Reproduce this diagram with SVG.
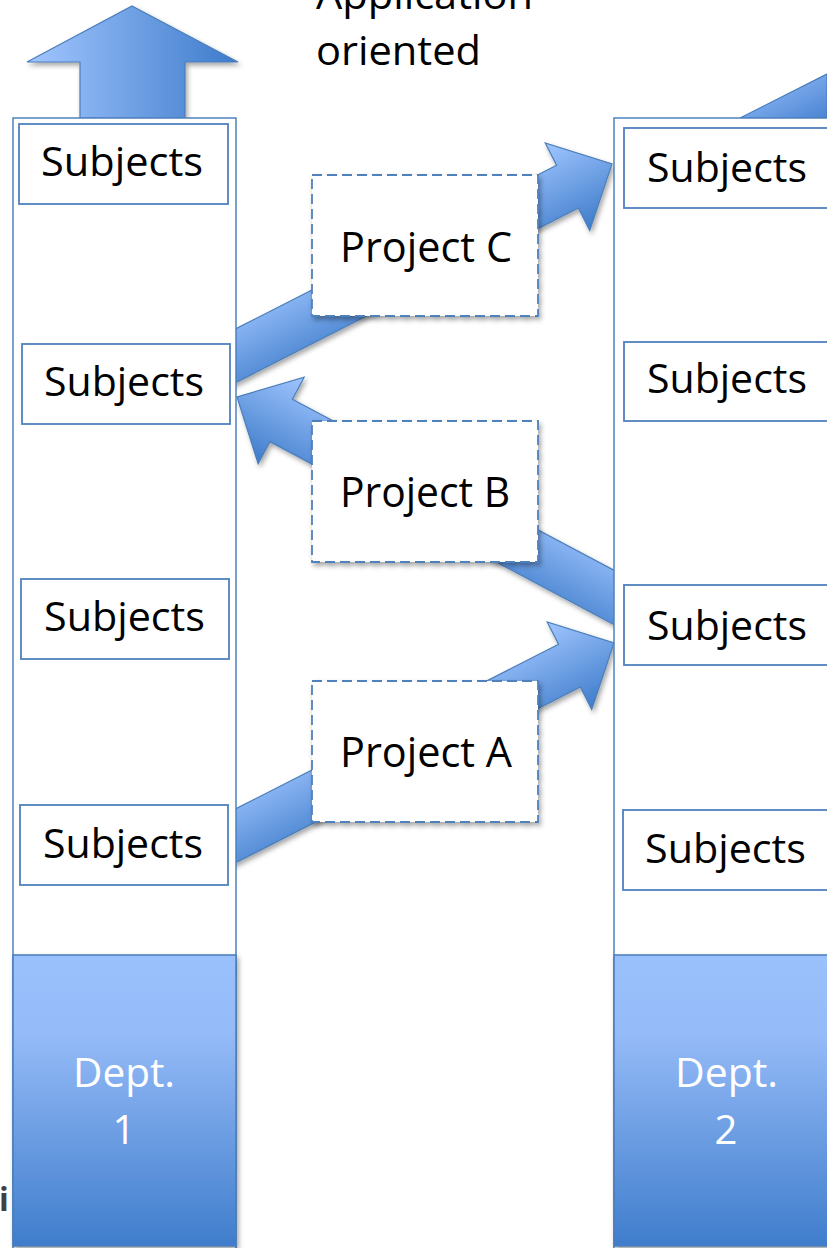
<svg xmlns="http://www.w3.org/2000/svg" width="827" height="1248" viewBox="0 0 827 1248">
  <defs>
    <style>
      .col { fill: #ffffff; stroke: #4f81bd; stroke-width: 1.5; }
      .subj { fill: #ffffff; stroke: #4f81bd; stroke-width: 1.8; }
      .proj { fill: #ffffff; stroke: #4f81bd; stroke-width: 1.8; stroke-dasharray: 10 5; }
      .dept { fill: url(#deptGrad); stroke: #4a7ebb; stroke-width: 1.5; }
      .arrow { fill: url(#arrowGrad); stroke: #4a7ebb; stroke-width: 1.2; }
      .t { font-family: "Open Sans", "Noto Sans", "Liberation Sans", sans-serif; font-size: 40px; fill: #000000; }
      .tp { font-family: "Open Sans", "Noto Sans", "Liberation Sans", sans-serif; font-size: 42px; fill: #000000; }
      .tw { font-family: "Open Sans", "Noto Sans", "Liberation Sans", sans-serif; font-size: 40px; fill: #ffffff; }
    </style>
    <linearGradient id="arrowGrad" x1="0" y1="0" x2="0" y2="1">
      <stop offset="0" stop-color="#a0c5ff"/>
      <stop offset="1" stop-color="#3e7cca"/>
    </linearGradient>
    <linearGradient id="upGrad" x1="0" y1="0" x2="1" y2="0">
      <stop offset="0" stop-color="#a2c6ff"/>
      <stop offset="1" stop-color="#3d7bca"/>
    </linearGradient>
    <linearGradient id="diagGrad" x1="0" y1="0" x2="1" y2="1">
      <stop offset="0" stop-color="#a0c5ff"/>
      <stop offset="1" stop-color="#4a84d2"/>
    </linearGradient>
    <linearGradient id="deptGrad" x1="0" y1="0" x2="0" y2="1">
      <stop offset="0" stop-color="#9bc1fd"/>
      <stop offset="0.28" stop-color="#94baf7"/>
      <stop offset="1" stop-color="#3f7dcc"/>
    </linearGradient>
    <filter id="shadow" x="-10%" y="-10%" width="130%" height="130%">
      <feDropShadow dx="2" dy="3" stdDeviation="2.5" flood-color="#000000" flood-opacity="0.35"/>
    </filter>
    <clipPath id="between">
      <rect x="236" y="0" width="378" height="1248"/>
    </clipPath>
    <polygon id="blockArrow" points="-520,-24 -50,-24 -50,-49 0,0 -50,49 -50,24 -520,24"/>
  </defs>

  <rect width="827" height="1248" fill="#ffffff"/>

  <!-- stray text partly hidden behind the first department -->
  <text x="-1" y="1211" font-family="Open Sans, Noto Sans, sans-serif" font-weight="bold" font-size="32" fill="#404040">i</text>

  <!-- heading -->
  <g id="heading">
    <text x="247" y="9" font-family="Open Sans, Noto Sans, sans-serif" font-size="40" fill="#8a8a8a">•</text>
    <text class="t" x="316" y="9" textLength="217" lengthAdjust="spacingAndGlyphs">Application</text>
    <text class="t" x="316" y="65" textLength="165" lengthAdjust="spacingAndGlyphs">oriented</text>
  </g>

  <!-- project flows between the departments -->
  <g id="connectors">
    <g clip-path="url(#between)">
      <g filter="url(#shadow)">
        <use href="#blockArrow" class="arrow" transform="translate(612,164) rotate(-27)"/>
      </g>
      <g filter="url(#shadow)">
        <use href="#blockArrow" class="arrow" transform="translate(237,397) rotate(208) scale(1,-1)"/>
      </g>
      <g filter="url(#shadow)">
        <use href="#blockArrow" class="arrow" transform="translate(614,643) rotate(-27)"/>
      </g>
    </g>
    <!-- upward arrow leaving department 1 -->
    <g filter="url(#shadow)">
      <polygon points="132,6 238,62 185,62 185,118 80,118 80,62 27,62" fill="url(#upGrad)" stroke="#4a7ebb" stroke-width="1.2"/>
    </g>
    <!-- arrow leaving department 2 -->
    <polygon points="740,118 827,74 827,118" fill="url(#diagGrad)" stroke="#4a7ebb" stroke-width="1.2"/>
  </g>

  <!-- department 1 -->
  <g id="dept1">
    <rect class="col" x="13" y="118" width="223" height="1140"/>
    <rect class="subj" x="19" y="124" width="209" height="80"/>
    <text class="t" x="41" y="176" textLength="162" lengthAdjust="spacingAndGlyphs">Subjects</text>
    <rect class="subj" x="22" y="344" width="208" height="80"/>
    <text class="t" x="44" y="396" textLength="160" lengthAdjust="spacingAndGlyphs">Subjects</text>
    <rect class="subj" x="21" y="579" width="208" height="80"/>
    <text class="t" x="44" y="631" textLength="161" lengthAdjust="spacingAndGlyphs">Subjects</text>
    <rect class="subj" x="20" y="805" width="208" height="80"/>
    <text class="t" x="43" y="858" textLength="160" lengthAdjust="spacingAndGlyphs">Subjects</text>
    <g filter="url(#shadow)">
      <rect class="dept" x="13" y="955" width="223" height="291"/>
    </g>
    <text class="tw" x="73" y="1087" textLength="102" lengthAdjust="spacingAndGlyphs">Dept.</text>
    <text class="tw" x="124" y="1144" text-anchor="middle">1</text>
  </g>

  <!-- department 2 -->
  <g id="dept2">
    <rect class="col" x="614" y="118" width="223" height="1140"/>
    <rect class="subj" x="624" y="128" width="208" height="80"/>
    <text class="t" x="647" y="182" textLength="160" lengthAdjust="spacingAndGlyphs">Subjects</text>
    <rect class="subj" x="624" y="342" width="208" height="79"/>
    <text class="t" x="647" y="393" textLength="160" lengthAdjust="spacingAndGlyphs">Subjects</text>
    <rect class="subj" x="624" y="585" width="208" height="80"/>
    <text class="t" x="647" y="640" textLength="160" lengthAdjust="spacingAndGlyphs">Subjects</text>
    <rect class="subj" x="623" y="810" width="208" height="80"/>
    <text class="t" x="645" y="863" textLength="161" lengthAdjust="spacingAndGlyphs">Subjects</text>
    <g filter="url(#shadow)">
      <rect class="dept" x="614" y="955" width="223" height="291"/>
    </g>
    <text class="tw" x="675" y="1087" textLength="103" lengthAdjust="spacingAndGlyphs">Dept.</text>
    <text class="tw" x="726" y="1144" text-anchor="middle">2</text>
  </g>

  <!-- projects -->
  <g id="projectC">
    <rect class="proj" x="312" y="175" width="226" height="141" filter="url(#shadow)"/>
    <text class="tp" x="340" y="262" textLength="172" lengthAdjust="spacingAndGlyphs">Project C</text>
  </g>
  <g id="projectB">
    <rect class="proj" x="312" y="421" width="226" height="141" filter="url(#shadow)"/>
    <text class="tp" x="340" y="507" textLength="170" lengthAdjust="spacingAndGlyphs">Project B</text>
  </g>
  <g id="projectA">
    <rect class="proj" x="312" y="681" width="226" height="141" filter="url(#shadow)"/>
    <text class="tp" x="340" y="767" textLength="172" lengthAdjust="spacingAndGlyphs">Project A</text>
  </g>
</svg>
